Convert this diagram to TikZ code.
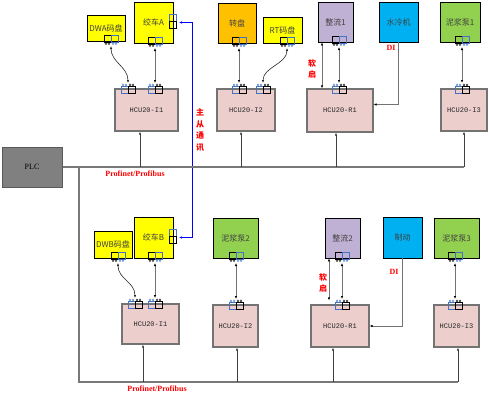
\documentclass[tikz,border=0pt]{standalone}
\usepackage{fontspec}
\setmainfont{Liberation Serif}
\setmonofont{Liberation Mono}
\newfontfamily\cjk{Noto Sans CJK SC}
\usepackage{tikz}
\usetikzlibrary{arrows.meta,positioning,calc}
\definecolor{devyellow}{RGB}{255,255,0}
\definecolor{devorange}{RGB}{255,192,0}
\definecolor{devlilac}{RGB}{191,177,212}
\definecolor{devcyan}{RGB}{0,176,240}
\definecolor{devgreen}{RGB}{146,208,80}
\definecolor{hcupink}{RGB}{236,206,205}
\definecolor{portblue}{RGB}{68,114,196}
\definecolor{busgray}{RGB}{120,120,120}

% port pair on the lower edge of a device: black left, blue right
\newcommand{\devport}[2]{%
  \coordinate (#1) at ($(#2)+(0,5)$);
  \draw[pbox] ($(#2)+(-7,1)$) rectangle ++(7,-7);
  \draw[pbox, portblue] ($(#2)+(0,1)$) rectangle ++(7,-7);
  \foreach \dx/\pcol in {-5/black,-2/black,2/portblue,5/portblue}
    \draw[pin, color=\pcol] ($(#2)+(\dx,2.6)$) circle (1);
}
% port pair on the upper edge of a HCU: blue left, black right
\newcommand{\hcuport}[2]{%
  \coordinate (#1) at ($(#2)+(0,-6)$);
  \draw[pbox, portblue] ($(#2)+(-7,4)$) rectangle ++(7,-7);
  \draw[pbox] ($(#2)+(0,4)$) rectangle ++(7,-7);
  \foreach \dx/\pcol in {-5/portblue,-2/portblue,2/black,5/black}
    \draw[pin, color=\pcol] ($(#2)+(\dx,-4.2)$) circle (1);
}
% port pair on the right edge (master/slave link)
\newcommand{\sideport}[2]{%
  \coordinate (#1) at ($(#2)+(6,1.5)$);
  \draw[pbox, portblue] ($(#2)+(-4,0)$) rectangle ++(7,-7);
  \draw[pbox] ($(#2)+(-4,0)$) rectangle ++(7,7);
}

\begin{document}
\begin{tikzpicture}[x=1pt, y=-1pt,
  every node/.style={font=\fontsize{8pt}{9pt}\selectfont},
  dev/.style={draw, line width=.8pt, inner sep=1pt, text=black!75, font=\cjk\fontsize{8pt}{9pt}\selectfont},
  hcu/.style={draw=black!55, fill=hcupink, line width=1.1pt, text=black!85, font=\ttfamily\fontsize{7pt}{8pt}\selectfont},
  plcbox/.style={draw=black!65, fill=black!50, line width=1pt, font=\fontsize{8pt}{9pt}\selectfont},
  pbox/.style={line width=.6pt},
  pin/.style={line width=.3pt},
  bus/.style={draw=busgray, line width=1.4pt},
  tap/.style={draw=black!75, line width=.7pt, -{Latex[length=3pt,width=2.4pt]}},
  link/.style={draw=black!55, line width=1pt, {Latex[length=3pt,width=2.4pt,color=black]}-{Latex[length=3pt,width=2.4pt,color=black]}},
  curlink/.style={draw=black!85, line width=.6pt, {Latex[length=3pt,width=2.4pt]}-{Latex[length=3pt,width=2.4pt]}},
  dilink/.style={draw=black!55, line width=1pt, -{Latex[length=3pt,width=2.4pt,color=black]}},
  mslink/.style={draw=blue, line width=.9pt, {Latex[length=3pt,width=2.4pt]}-{Latex[length=3pt,width=2.4pt]}},
  redlbl/.style={text=red, font=\bfseries\fontsize{8pt}{9pt}\selectfont},
  redcjk/.style={text=red, align=center, font=\cjk\bfseries\fontsize{8pt}{11.5pt}\selectfont}]
  \useasboundingbox (0,0) rectangle (489,413);

  % upper group
  \node[dev, fill=devyellow, minimum width=38pt, minimum height=26pt] (dwa) at (106,28) {DWA码盘};
  \node[dev, fill=devyellow, minimum width=39pt, minimum height=41pt] (jca) at (153.5,22.5) {绞车A};
  \node[dev, fill=devorange, minimum width=38pt, minimum height=40pt] (zp) at (237,23) {转盘};
  \node[dev, fill=devyellow, minimum width=39pt, minimum height=26pt] (rt) at (282.5,30) {RT码盘};
  \node[dev, fill=devlilac, minimum width=35pt, minimum height=40pt] (zl1) at (335.5,22) {整流1};
  \node[dev, fill=devcyan, minimum width=39pt, minimum height=40pt] (slj) at (398.5,22) {水冷机};
  \node[dev, fill=devgreen, minimum width=40pt, minimum height=40pt] (njb1) at (460,22) {泥浆泵1};

  \node[hcu, minimum width=63pt, minimum height=42pt] (ia1) at (146.5,110) {HCU20-I1};
  \node[hcu, minimum width=58pt, minimum height=42pt] (ia2) at (246,110) {HCU20-I2};
  \node[hcu, minimum width=66pt, minimum height=43pt] (ra) at (340,110.5) {HCU20-R1};
  \node[hcu, minimum width=46pt, minimum height=42pt] (ia3) at (464,110) {HCU20-I3};

  \node[plcbox, minimum width=60pt, minimum height=40pt] (plc) at (32,167) {PLC};

  % lower group
  \node[dev, fill=devyellow, minimum width=38pt, minimum height=27pt] (dwb) at (113,244.5) {DWB码盘};
  \node[dev, fill=devyellow, minimum width=39pt, minimum height=41pt] (jcb) at (153.5,237.5) {绞车B};
  \node[dev, fill=devgreen, minimum width=45pt, minimum height=40pt] (njb2) at (235.5,238) {泥浆泵2};
  \node[dev, fill=devlilac, minimum width=35pt, minimum height=40pt] (zl2) at (342.5,238) {整流2};
  \node[dev, fill=devcyan, minimum width=39pt, minimum height=41pt] (zd) at (402.5,237.5) {制动};
  \node[dev, fill=devgreen, minimum width=45pt, minimum height=40pt] (njb3) at (456.5,238) {泥浆泵3};

  \node[hcu, minimum width=57pt, minimum height=40pt] (ib1) at (150.5,324) {HCU20-I1};
  \node[hcu, minimum width=45pt, minimum height=42pt] (ib2) at (235.5,326) {HCU20-I2};
  \node[hcu, minimum width=58pt, minimum height=42pt] (rb) at (340,326) {HCU20-R1};
  \node[hcu, minimum width=45pt, minimum height=42pt] (ib3) at (456.5,326) {HCU20-I3};

  % ports
  \devport{dwaP}{111,41}
  \devport{jcaP}{155,43}
  \devport{zpP}{239,43}
  \devport{rtP}{287,43}
  \devport{zl1P}{339,42}
  \devport{njb1P}{462,42}
  \hcuport{ia1Pa}{128,89}
  \hcuport{ia1Pb}{155,89}
  \hcuport{ia2Pa}{239,89}
  \hcuport{ia2Pb}{263,89}
  \hcuport{raP}{339,89}
  \hcuport{ia3P}{462,89}
  \devport{dwbP}{118,258}
  \devport{jcbP}{155,258}
  \devport{njb2P}{236,258}
  \devport{zl2P}{342,258}
  \devport{njb3P}{455,258}
  \hcuport{ib1Pa}{135,304}
  \hcuport{ib1Pb}{155,304}
  \hcuport{ib2P}{236,305}
  \hcuport{rbP}{342,305}
  \hcuport{ib3P}{455,305}
  \sideport{jcaR}{173,21}
  \sideport{jcbR}{173,236}

  % device links, upper
  \draw[curlink] (dwaP) .. controls +(0,16) and +(0,-16) .. (ia1Pa);
  \draw[link] (jcaP) -- (ia1Pb);
  \draw[link] (zpP) -- (ia2Pa);
  \draw[curlink] (rtP) .. controls +(0,16) and +(0,-16) .. (ia2Pb);
  \draw[link] (zl1P) -- (raP);
  \coordinate (rsA) at ([xshift=-13.5pt]zl1.south);
  \draw[link] (rsA) -- (rsA |- ra.north);
  \draw[link] (njb1P) -- (ia3P);
  \draw[dilink] (slj.south) |- ([yshift=6pt]ra.east);

  % device links, lower
  \draw[curlink] (dwbP) .. controls +(0,16) and +(0,-16) .. (ib1Pa);
  \draw[link] (jcbP) -- (ib1Pb);
  \draw[link] (njb2P) -- (ib2P);
  \draw[link] (zl2P) -- (rbP);
  \coordinate (rsB) at ([xshift=-13.5pt]zl2.south);
  \draw[link] (rsB) -- ([yshift=4pt]rsB |- rb.north);
  \draw[link] (njb3P) -- (ib3P);
  \draw[dilink] (zd.south) |- (rb.east);

  % master/slave
  \draw[mslink] (jcaR) -- ++(13,0) |- (jcbR);

  % field bus
  \coordinate (busEnd) at (464,167);
  \draw[bus] (plc.east) -- (busEnd);
  \foreach \hc/\tx in {ia1/140, ia2/241, ra/336, ia3/464} {
    \coordinate (tap\hc) at (\tx,167);
    \draw[tap] (tap\hc) -- (tap\hc |- \hc.south);
  }
  \coordinate (drop) at (79,167);
  \coordinate (busBend) at (458,382);
  \draw[bus] (drop) |- (busBend);
  \foreach \hc/\tx in {ib1/143, ib2/237, rb/333, ib3/458} {
    \coordinate (tap\hc) at (\tx,382);
    \draw[tap] (tap\hc) -- (tap\hc |- \hc.south);
  }

  % labels
  \node[redlbl] (pfA) at (135,174) {Profinet/Profibus};
  \node[redlbl] (pfB) at (157,389) {Profinet/Profibus};
  \node[redcjk] (ms) at (200,130) {主\\从\\通\\讯};
  \node[redcjk] (rqA) at (312,69) {软\\启};
  \node[redcjk] (rqB) at (323,283) {软\\启};
  \node[redlbl] (diA) at (391,48) {DI};
  \node[redlbl] (diB) at (394,272) {DI};
\end{tikzpicture}
\end{document}
